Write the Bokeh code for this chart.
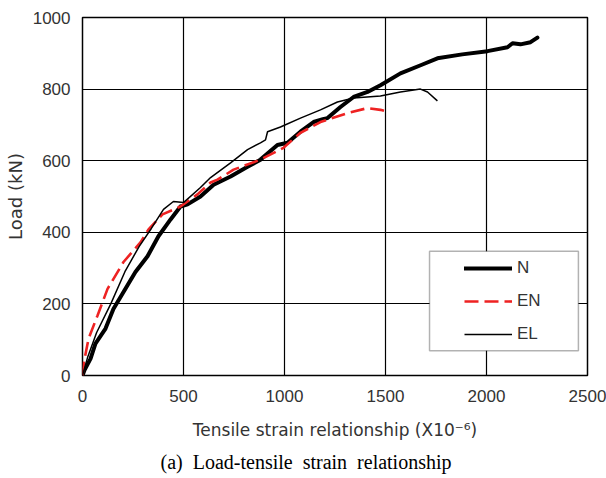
from bokeh.plotting import figure
from bokeh.models import (FixedTicker, Legend, LegendItem, BoxAnnotation, Title, Range1d)
from bokeh.embed import file_html
from bokeh.resources import INLINE

# ---- data ----
n_strain = [0, 10, 40, 64, 114, 153, 203, 262, 322, 376, 436, 485, 520, 584, 649, 733, 817, 881,
            965, 1015, 1079, 1144, 1190, 1213, 1277, 1342, 1411, 1475, 1574, 1680, 1757, 1880,
            2005, 2104, 2129, 2168, 2218, 2252]
n_load = [0, 15, 47, 89, 131, 186, 233, 289, 333, 389, 436, 472, 478, 500, 533, 556, 583, 603,
          644, 650, 681, 708, 716, 719, 750, 778, 792, 811, 844, 868, 886, 897,
          906, 917, 928, 925, 931, 944]

en_strain = [0, 8, 30, 74, 124, 203, 287, 327, 396, 485, 569, 634, 668, 748, 881, 995, 1079,
             1178, 1312, 1411, 1475, 1515]
en_load = [0, 40, 103, 167, 242, 317, 372, 408, 450, 472, 506, 539, 547, 575, 603, 636, 678,
           708, 733, 747, 742, 736]

el_strain = [0, 25, 70, 140, 210, 280, 340, 401, 450, 500, 584, 634, 733, 817, 881, 906, 916,
             980, 1079, 1178, 1262, 1342, 1475, 1574, 1673, 1708, 1757]
el_load = [0, 50, 120, 200, 290, 360, 410, 464, 486, 483, 525, 553, 594, 631, 650, 658, 681,
           694, 719, 742, 764, 775, 781, 792, 800, 792, 767]

x_ticks = [0, 500, 1000, 1500, 2000, 2500]
y_ticks = [0, 200, 400, 600, 800, 1000]
series_names = ["N", "EN", "EL"]

x_title = "Tensile strain relationship (X10\u207b\u2076)"
y_title = "Load (kN)"
caption = "(a)\u00a0 Load-tensile\u00a0 strain\u00a0 relationship"

SANS = "Liberation Sans"
WIDE = "DejaVu Sans"
TXT = "#333333"

p = figure(width=606, height=478, output_backend="svg", toolbar_location=None,
           x_range=Range1d(0, 2500), y_range=Range1d(0, 1000),
           min_border_left=82, min_border_right=19, min_border_top=17, min_border_bottom=101)
p.outline_line_color = "black"
p.outline_line_width = 1.5
p.background_fill_color = "white"
p.border_fill_color = "white"

for ax in (p.xaxis[0], p.yaxis[0]):
    ax.axis_line_color = None
    ax.major_tick_line_color = None
    ax.minor_tick_line_color = None
    ax.major_tick_in = 0
    ax.major_tick_out = 0
    ax.minor_tick_out = 0
    ax.major_label_text_font = SANS
    ax.major_label_text_font_size = "17px"
    ax.major_label_text_color = TXT
    ax.axis_label_text_font = WIDE
    ax.axis_label_text_font_size = "17px"
    ax.axis_label_text_font_style = "normal"
    ax.axis_label_text_color = TXT

p.yaxis.axis_label_text_font_size = "18px"

p.xaxis.ticker = FixedTicker(ticks=x_ticks)
p.yaxis.ticker = FixedTicker(ticks=y_ticks)
p.xaxis.major_label_standoff = 14
p.yaxis.major_label_standoff = 12
p.xaxis.axis_label = x_title
p.yaxis.axis_label = y_title
p.xaxis.axis_label_standoff = 15
p.yaxis.axis_label_standoff = 4

p.grid.grid_line_color = "black"
p.grid.grid_line_width = 1.2
p.xgrid.ticker = FixedTicker(ticks=x_ticks)
p.ygrid.ticker = FixedTicker(ticks=y_ticks)

r_n = p.line(n_strain, n_load, line_color="black", line_width=4, line_join="round", line_cap="round")
r_en = p.line(en_strain, en_load, line_color="#ee2222", line_width=2.6, line_dash="14 6")
r_el = p.line(el_strain, el_load, line_color="black", line_width=1.5)

# legend frame
box = BoxAnnotation(left=1718, right=2455, bottom=69, top=347,
                    fill_color="white", fill_alpha=1.0, line_color="black", line_width=1.5,
                    level="annotation")
p.add_layout(box)

legend = Legend(items=[LegendItem(label=series_names[0], renderers=[r_n]),
                       LegendItem(label=series_names[1], renderers=[r_en]),
                       LegendItem(label=series_names[2], renderers=[r_el])],
                location=(382, 31), padding=0, margin=0, spacing=13,
                glyph_width=48, glyph_height=20, label_height=20, label_standoff=5,
                border_line_color=None, background_fill_alpha=0,
                label_text_font=SANS, label_text_font_size="17px", label_text_color=TXT)
p.add_layout(legend)

cap = Title(text=caption, align="left", text_font="Liberation Serif",
            text_font_size="20px", text_font_style="normal", text_color="black",
            offset=78, standoff=12)
p.add_layout(cap, "below")

open("out.html", "w").write(file_html(p, INLINE))
